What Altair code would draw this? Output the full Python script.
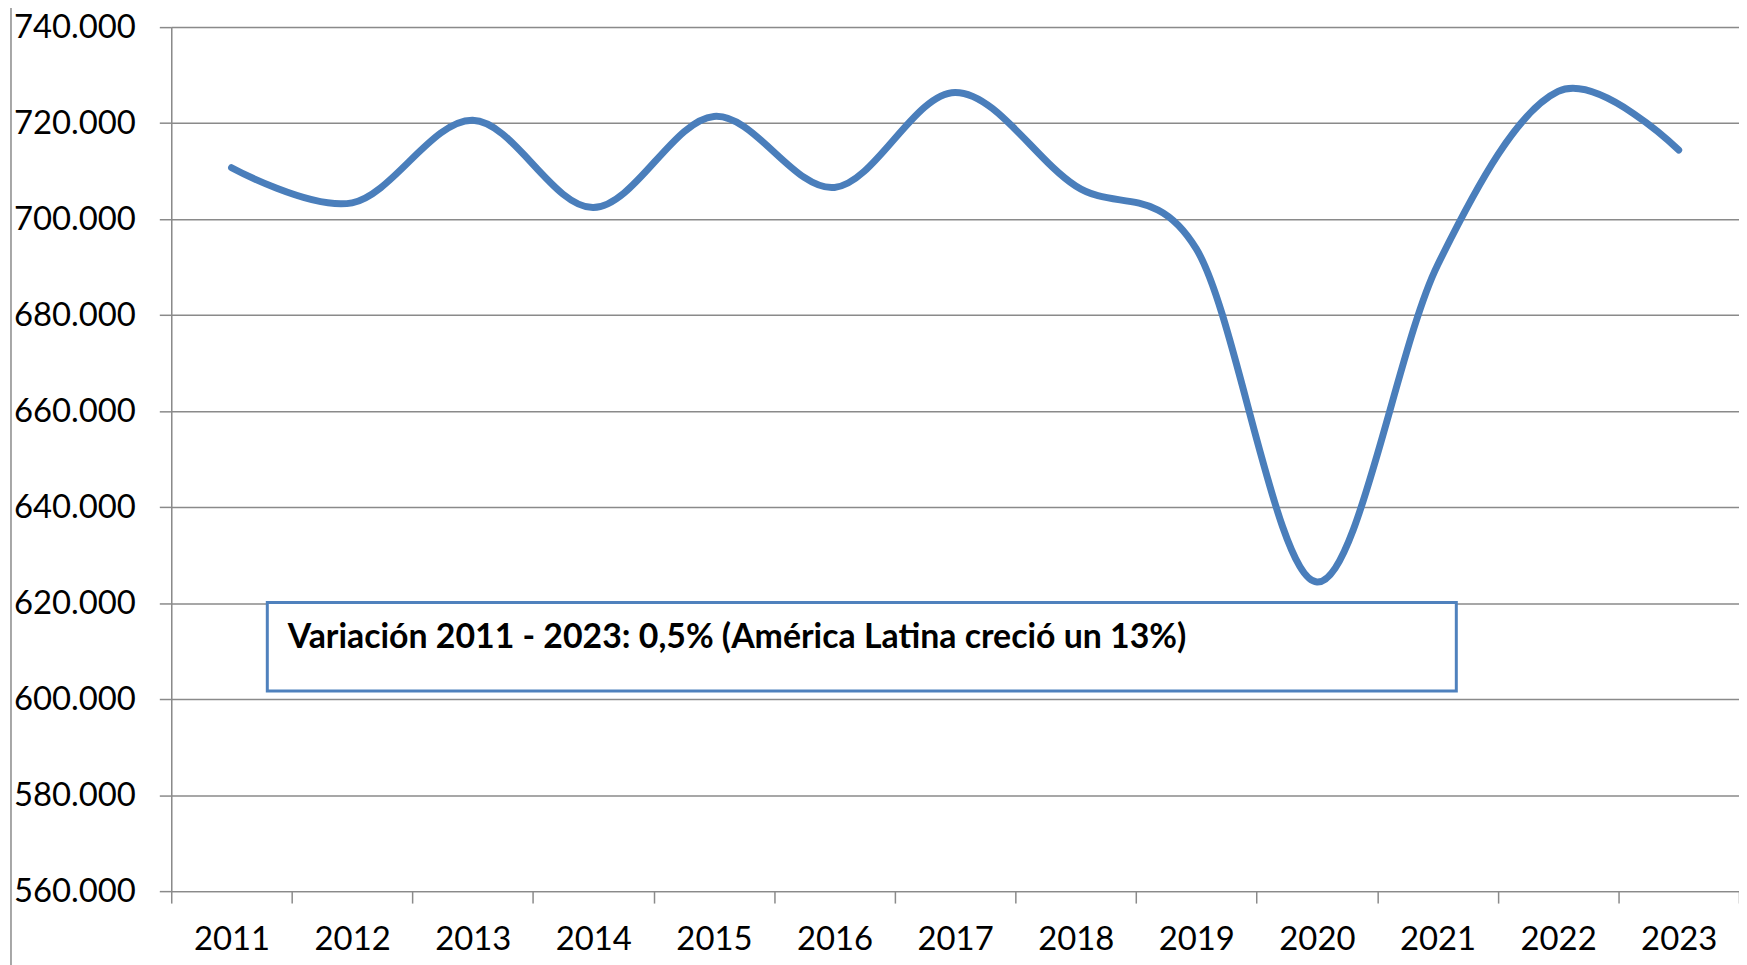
import altair as alt
import pandas as pd

years = ["2011", "2012", "2013", "2014", "2015", "2016", "2017",
         "2018", "2019", "2020", "2021", "2022", "2023"]
values = [710700, 703400, 720600, 702400, 721400, 706600, 726400,
          706900, 693800, 624400, 690400, 726600, 714400]
y_ticks = [560000, 580000, 600000, 620000, 640000, 660000, 680000, 700000, 720000, 740000]
note = "Variación 2011 - 2023: 0,5% (América Latina creció un 13%)"

df = pd.DataFrame({"year": years, "value": values})

W, H = 1575, 868
FONT = "Lato"
GRID = "#8a8a8a"
BLUE = "#4a7ebb"

x = alt.X("year:O", sort=years, title=None,
          scale=alt.Scale(type="band", paddingInner=0, paddingOuter=0),
          bandPosition=0.5,
          axis=alt.Axis(tickBand="extent", labelAngle=0, labelFont=FONT, labelFontSize=33,
                        labelColor="black", labelPadding=21, tickSize=12, tickColor=GRID,
                        tickWidth=1.5, domainColor=GRID, domainWidth=1.5, grid=False))
y = alt.Y("value:Q", title=None,
          scale=alt.Scale(domain=[560000, 740000], nice=False, zero=False),
          axis=alt.Axis(values=y_ticks, labelExpr="replace(format(datum.value, ','), ',', '.')",
                        labelFont=FONT, labelFontSize=33, labelColor="black", labelPadding=24,
                        tickSize=12, tickColor=GRID, tickWidth=1.5, domainColor=GRID,
                        domainWidth=1.5, grid=True, gridColor=GRID, gridWidth=1.5))

line = alt.Chart(df).mark_line(interpolate="cardinal", color=BLUE, strokeWidth=7,
                               strokeCap="round").encode(x=x, y=y)

box = alt.Chart(pd.DataFrame({"t": [note]})).mark_rect(
    fill="white", stroke="#4f81bd", strokeWidth=3
).encode(x=alt.value(96.5), x2=alt.value(1291), y=alt.value(578), y2=alt.value(667))

text = alt.Chart(pd.DataFrame({"t": [note]})).mark_text(
    align="left", baseline="alphabetic", font=FONT, fontWeight="bold", fontSize=34,
    color="black"
).encode(x=alt.value(117), y=alt.value(624), text="t:N")

border = alt.Chart(pd.DataFrame({"t": [0]})).mark_rule(color=GRID, strokeWidth=1.5).encode(
    x=alt.value(-161), y=alt.value(-24), y2=alt.value(960))

chart = alt.layer(line, box, text, border).properties(
    width=W, height=H,
    autosize=alt.AutoSizeParams(type="none"),
    padding={"left": 164, "top": 17, "right": 0, "bottom": 72},
).configure_view(stroke=None).configure(background="white")

chart.save("out.html", embed_options={"renderer": "svg", "actions": False})
